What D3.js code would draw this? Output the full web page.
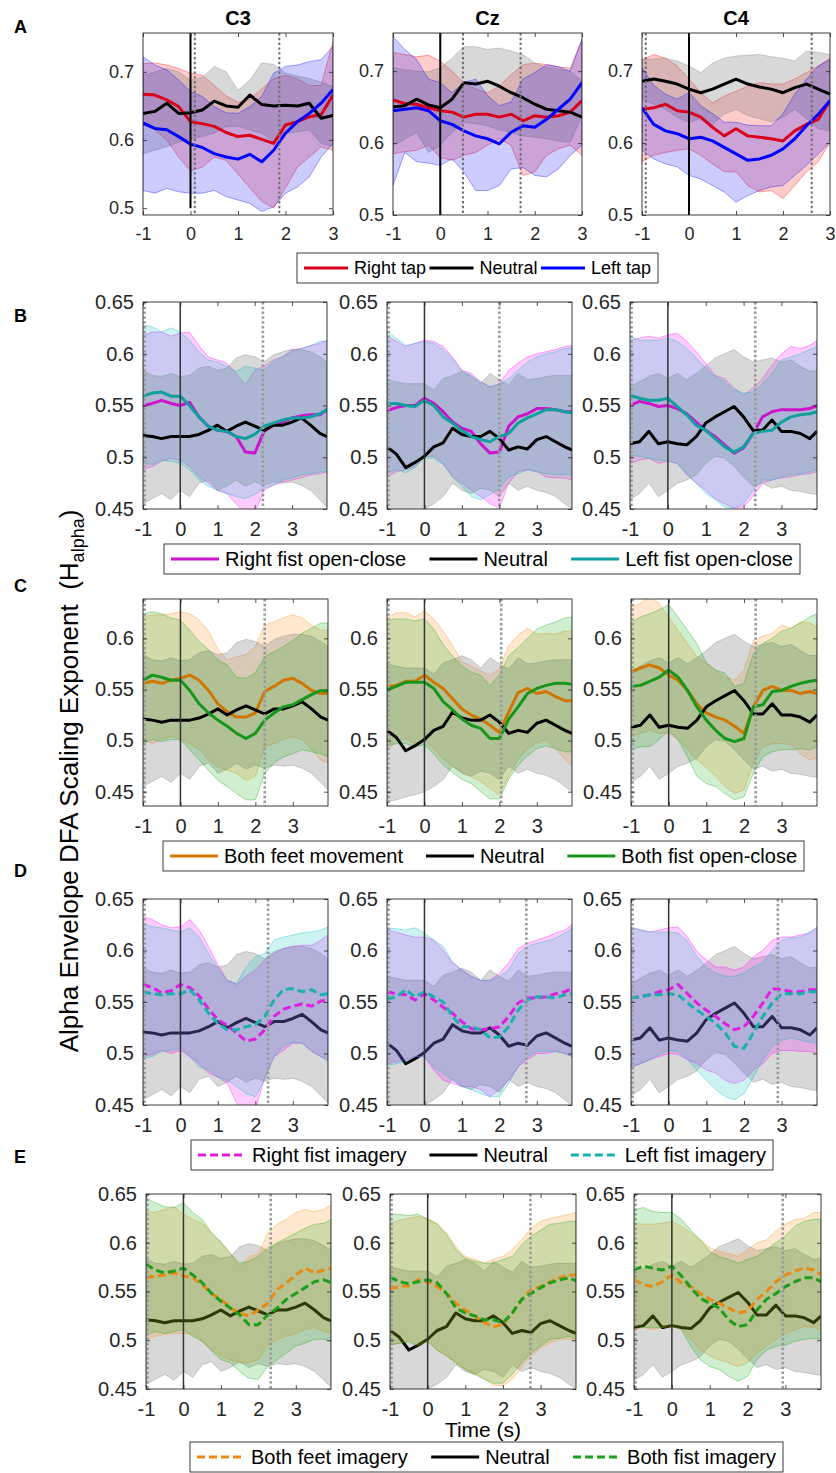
<!DOCTYPE html>
<html lang="en">
<head>
<meta charset="utf-8">
<title>Alpha envelope DFA scaling exponent</title>
<script src="https://cdn.jsdelivr.net/npm/d3@7"></script>
<style>
  body { margin: 0; background: #fff; }
  svg text { font-family: "Liberation Sans", Arial, Helvetica, sans-serif; }
</style>
</head>
<body>
<svg id="chart" width="836" height="1473"></svg>
<script>
// ---------- data ----------
// time axes (s)
var timeA = [-1,-0.75,-0.5,-0.25,0,0.25,0.5,0.75,1,1.25,1.5,1.75,2,2.25,2.5,2.75,3];
var timeB = [-1,-0.75,-0.5,-0.25,0,0.25,0.5,0.75,1,1.25,1.5,1.75,2,2.25,2.5,2.75,3,3.25,3.5,3.75,3.94];

var channels = ["C3", "Cz", "C4"];
var panelLetters = ["A", "B", "C", "D", "E"];
var xTicks = [-1, 0, 1, 2, 3];
var yTicksA = [0.5, 0.6, 0.7];
var yTicksBDE = [0.45, 0.5, 0.55, 0.6, 0.65];
var yTicksC = [0.45, 0.5, 0.55, 0.6];

var legendA = ["Right tap", "Neutral", "Left tap"];
var legendB = ["Right fist open-close", "Neutral", "Left fist open-close"];
var legendC = ["Both feet movement", "Neutral", "Both fist open-close"];
var legendD = ["Right fist imagery", "Neutral", "Left fist imagery"];
var legendE = ["Both feet imagery", "Neutral", "Both fist imagery"];

// dotted event markers (s), per channel
var marksA = [[0.09, 1.87], [0.48, 1.70], [-0.92, 2.61]];
var marksB = [[-1, 2.22], [-1, 2.0], [-1, 2.31]];
var marksC = [[-1, 2.25], [-1, 2.05], [-1, 2.31]];
var marksD = [[-1, 2.34], [-1, 2.72], [-1, 2.9]];
var marksE = [[-1, 2.33], [-1, 2.73], [-1, 2.93]];

// row A: tapping
var aRightC3Mean = [0.667,0.666,0.659,0.649,0.627,0.624,0.620,0.611,0.605,0.607,0.601,0.595,0.622,0.627,0.634,0.637,0.666];
var aRightC3Lo   = [0.622,0.615,0.600,0.575,0.555,0.560,0.575,0.570,0.550,0.530,0.510,0.500,0.530,0.560,0.575,0.590,0.585];
var aRightC3Hi   = [0.712,0.713,0.710,0.705,0.698,0.695,0.680,0.665,0.655,0.660,0.675,0.690,0.695,0.690,0.680,0.680,0.745];
var aNeutC3Mean  = [0.639,0.642,0.654,0.639,0.640,0.644,0.657,0.650,0.648,0.666,0.652,0.650,0.651,0.650,0.654,0.632,0.636];
var aNeutC3Lo    = [0.580,0.585,0.590,0.597,0.602,0.605,0.610,0.620,0.620,0.615,0.610,0.597,0.610,0.612,0.615,0.595,0.590];
var aNeutC3Hi    = [0.695,0.700,0.705,0.700,0.688,0.692,0.708,0.700,0.673,0.688,0.713,0.711,0.698,0.694,0.690,0.685,0.678];
var aLeftC3Mean  = [0.625,0.617,0.615,0.605,0.594,0.589,0.580,0.575,0.572,0.579,0.568,0.585,0.610,0.627,0.639,0.654,0.674];
var aLeftC3Lo    = [0.526,0.522,0.529,0.524,0.522,0.522,0.526,0.517,0.512,0.507,0.495,0.502,0.522,0.531,0.546,0.575,0.595];
var aLeftC3Hi    = [0.722,0.710,0.703,0.688,0.671,0.664,0.649,0.640,0.639,0.649,0.664,0.698,0.708,0.710,0.715,0.718,0.737];

var aRightCzMean = [0.660,0.655,0.654,0.649,0.645,0.643,0.636,0.640,0.640,0.636,0.640,0.631,0.638,0.636,0.638,0.643,0.659];
var aRightCzLo   = [0.585,0.588,0.590,0.597,0.580,0.576,0.583,0.587,0.597,0.606,0.597,0.555,0.560,0.583,0.592,0.597,0.583];
var aRightCzHi   = [0.726,0.723,0.720,0.722,0.714,0.700,0.684,0.675,0.670,0.679,0.695,0.709,0.711,0.709,0.706,0.704,0.744];
var aNeutCzMean  = [0.650,0.652,0.661,0.653,0.649,0.661,0.684,0.682,0.686,0.679,0.670,0.663,0.654,0.647,0.645,0.643,0.636];
var aNeutCzLo    = [0.597,0.605,0.615,0.587,0.597,0.615,0.629,0.627,0.624,0.618,0.615,0.610,0.608,0.606,0.603,0.601,0.638];
var aNeutCzHi    = [0.705,0.702,0.700,0.699,0.705,0.718,0.734,0.734,0.730,0.732,0.728,0.723,0.711,0.705,0.703,0.700,0.686];
var aLeftCzMean  = [0.645,0.647,0.649,0.645,0.631,0.626,0.617,0.610,0.606,0.599,0.615,0.624,0.622,0.633,0.647,0.661,0.684];
var aLeftCzLo    = [0.541,0.587,0.574,0.572,0.569,0.578,0.560,0.534,0.534,0.541,0.564,0.566,0.555,0.553,0.564,0.583,0.597];
var aLeftCzHi    = [0.748,0.730,0.716,0.689,0.684,0.670,0.684,0.689,0.666,0.652,0.657,0.689,0.698,0.709,0.706,0.700,0.744];

var aRightC4Mean = [0.647,0.649,0.654,0.645,0.643,0.636,0.622,0.610,0.620,0.610,0.608,0.606,0.603,0.617,0.626,0.633,0.659];
var aRightC4Lo   = [0.574,0.583,0.587,0.590,0.592,0.583,0.571,0.560,0.560,0.541,0.532,0.534,0.523,0.541,0.560,0.574,0.601];
var aRightC4Hi   = [0.716,0.723,0.718,0.707,0.689,0.670,0.656,0.665,0.672,0.679,0.684,0.682,0.682,0.689,0.698,0.707,0.718];
var aNeutC4Mean  = [0.686,0.689,0.686,0.682,0.675,0.670,0.675,0.682,0.689,0.682,0.678,0.675,0.670,0.677,0.682,0.675,0.668];
var aNeutC4Lo    = [0.661,0.654,0.647,0.636,0.629,0.634,0.626,0.640,0.647,0.638,0.634,0.629,0.636,0.647,0.634,0.620,0.617];
var aNeutC4Hi    = [0.716,0.717,0.718,0.714,0.707,0.698,0.711,0.718,0.721,0.722,0.723,0.720,0.718,0.714,0.728,0.726,0.723];
var aLeftC4Mean  = [0.649,0.626,0.617,0.613,0.606,0.608,0.603,0.594,0.585,0.576,0.578,0.583,0.592,0.606,0.624,0.640,0.659];
var aLeftC4Lo    = [0.590,0.578,0.571,0.567,0.555,0.550,0.541,0.532,0.518,0.527,0.534,0.539,0.541,0.555,0.569,0.585,0.601];
var aLeftC4Hi    = [0.705,0.680,0.668,0.661,0.670,0.652,0.641,0.629,0.629,0.625,0.624,0.624,0.641,0.668,0.689,0.707,0.716];

// neutral condition, shared by rows B-E
var neutC3Mean = [0.521,0.520,0.518,0.520,0.520,0.520,0.522,0.526,0.531,0.525,0.530,0.534,0.530,0.526,0.531,0.531,0.534,0.538,0.531,0.523,0.520];
var neutC3Lo   = [0.455,0.460,0.465,0.459,0.468,0.462,0.475,0.478,0.468,0.472,0.478,0.472,0.476,0.473,0.476,0.475,0.476,0.473,0.468,0.459,0.452];
var neutC3Hi   = [0.584,0.579,0.578,0.581,0.578,0.579,0.586,0.588,0.584,0.586,0.596,0.599,0.597,0.592,0.599,0.602,0.604,0.604,0.602,0.597,0.592];
var neutCzMean = [0.510,0.503,0.490,0.495,0.501,0.510,0.514,0.528,0.522,0.520,0.520,0.525,0.518,0.507,0.510,0.508,0.517,0.520,0.515,0.510,0.507];
var neutCzLo   = [0.440,0.442,0.445,0.447,0.450,0.455,0.462,0.475,0.468,0.465,0.470,0.468,0.462,0.475,0.468,0.472,0.468,0.466,0.462,0.455,0.450];
var neutCzHi   = [0.575,0.573,0.571,0.571,0.571,0.565,0.576,0.579,0.583,0.579,0.571,0.581,0.575,0.570,0.581,0.575,0.576,0.578,0.579,0.579,0.579];
var neutC4Mean = [0.513,0.515,0.525,0.513,0.515,0.513,0.512,0.520,0.533,0.539,0.544,0.549,0.539,0.526,0.526,0.536,0.525,0.525,0.523,0.518,0.525];
var neutC4Lo   = [0.459,0.465,0.475,0.462,0.468,0.475,0.478,0.483,0.494,0.501,0.499,0.491,0.481,0.472,0.475,0.470,0.472,0.468,0.467,0.465,0.464];
var neutC4Hi   = [0.568,0.573,0.578,0.581,0.576,0.581,0.575,0.581,0.588,0.596,0.600,0.604,0.597,0.592,0.594,0.596,0.592,0.594,0.588,0.583,0.584];

// row B: fist open-close
var bRightC3Mean = [0.550,0.552,0.555,0.552,0.550,0.553,0.539,0.530,0.526,0.525,0.520,0.505,0.504,0.525,0.531,0.534,0.538,0.540,0.541,0.541,0.546];
var bRightC3Lo   = [0.488,0.491,0.496,0.499,0.497,0.491,0.481,0.475,0.468,0.465,0.455,0.446,0.446,0.468,0.473,0.476,0.478,0.480,0.483,0.484,0.486];
var bRightC3Hi   = [0.618,0.621,0.621,0.617,0.620,0.621,0.608,0.597,0.594,0.591,0.581,0.570,0.584,0.588,0.594,0.597,0.604,0.605,0.608,0.610,0.613];
var bLeftC3Mean  = [0.559,0.562,0.563,0.559,0.559,0.550,0.539,0.530,0.526,0.525,0.520,0.518,0.522,0.530,0.533,0.536,0.538,0.538,0.539,0.542,0.546];
var bLeftC3Lo    = [0.494,0.493,0.497,0.496,0.494,0.488,0.478,0.472,0.468,0.465,0.462,0.460,0.464,0.470,0.473,0.478,0.480,0.483,0.484,0.486,0.486];
var bLeftC3Hi    = [0.628,0.626,0.621,0.625,0.621,0.613,0.602,0.594,0.592,0.588,0.583,0.588,0.586,0.584,0.592,0.597,0.602,0.605,0.608,0.612,0.612];
var bRightCzMean = [0.545,0.548,0.550,0.550,0.557,0.552,0.544,0.534,0.528,0.525,0.513,0.504,0.505,0.530,0.539,0.542,0.547,0.547,0.546,0.544,0.544];
var bRightCzLo   = [0.481,0.486,0.488,0.491,0.501,0.501,0.494,0.481,0.475,0.468,0.462,0.455,0.451,0.475,0.486,0.488,0.486,0.481,0.480,0.480,0.478];
var bRightCzHi   = [0.617,0.612,0.607,0.610,0.613,0.612,0.607,0.597,0.584,0.581,0.573,0.568,0.571,0.584,0.591,0.597,0.600,0.602,0.604,0.607,0.608];
var bLeftCzMean  = [0.552,0.552,0.550,0.549,0.555,0.550,0.539,0.533,0.526,0.520,0.517,0.515,0.520,0.523,0.533,0.538,0.542,0.546,0.546,0.544,0.543];
var bLeftCzLo    = [0.485,0.488,0.485,0.490,0.499,0.499,0.493,0.481,0.472,0.462,0.459,0.464,0.470,0.481,0.484,0.488,0.486,0.484,0.483,0.483,0.483];
var bLeftCzHi    = [0.621,0.615,0.608,0.610,0.612,0.610,0.604,0.595,0.583,0.578,0.573,0.568,0.570,0.576,0.584,0.592,0.597,0.600,0.602,0.605,0.606];
var bRightC4Mean = [0.550,0.554,0.552,0.549,0.550,0.547,0.542,0.534,0.526,0.520,0.512,0.504,0.509,0.523,0.539,0.544,0.546,0.546,0.546,0.547,0.550];
var bRightC4Lo   = [0.494,0.497,0.499,0.494,0.496,0.494,0.483,0.475,0.468,0.460,0.455,0.451,0.452,0.462,0.475,0.478,0.480,0.481,0.483,0.484,0.486];
var bRightC4Hi   = [0.613,0.615,0.617,0.615,0.618,0.620,0.612,0.602,0.591,0.579,0.576,0.567,0.560,0.567,0.576,0.589,0.600,0.607,0.605,0.608,0.613];
var bLeftC4Mean  = [0.560,0.557,0.555,0.555,0.557,0.549,0.541,0.531,0.526,0.518,0.510,0.505,0.510,0.523,0.525,0.526,0.534,0.539,0.541,0.542,0.544];
var bLeftC4Lo    = [0.502,0.501,0.499,0.497,0.497,0.494,0.484,0.475,0.465,0.459,0.452,0.451,0.455,0.468,0.478,0.478,0.481,0.483,0.484,0.486,0.488];
var bLeftC4Hi    = [0.617,0.613,0.613,0.613,0.615,0.612,0.605,0.596,0.586,0.578,0.573,0.565,0.562,0.563,0.571,0.581,0.594,0.597,0.600,0.604,0.607];

// row C: feet movement / both fists
var cFeetC3Mean = [0.556,0.558,0.556,0.559,0.561,0.564,0.559,0.549,0.536,0.528,0.523,0.523,0.527,0.548,0.553,0.559,0.561,0.556,0.549,0.546,0.546];
var cFeetC3Lo   = [0.501,0.497,0.501,0.504,0.502,0.497,0.491,0.481,0.474,0.471,0.468,0.461,0.465,0.494,0.497,0.501,0.504,0.501,0.491,0.481,0.478];
var cFeetC3Hi   = [0.621,0.623,0.623,0.624,0.626,0.624,0.618,0.607,0.589,0.579,0.582,0.584,0.592,0.613,0.616,0.620,0.623,0.620,0.613,0.608,0.608];
var cFistC3Mean = [0.559,0.564,0.562,0.559,0.559,0.549,0.536,0.527,0.520,0.514,0.507,0.502,0.507,0.520,0.527,0.533,0.535,0.540,0.545,0.549,0.548];
var cFistC3Lo   = [0.497,0.501,0.499,0.501,0.501,0.491,0.481,0.471,0.461,0.455,0.448,0.442,0.442,0.468,0.478,0.484,0.487,0.491,0.489,0.487,0.484];
var cFistC3Hi   = [0.624,0.626,0.624,0.620,0.618,0.608,0.597,0.589,0.579,0.574,0.562,0.561,0.566,0.582,0.587,0.592,0.598,0.605,0.610,0.615,0.615];
var cFeetCzMean = [0.553,0.554,0.558,0.558,0.564,0.557,0.551,0.541,0.531,0.525,0.521,0.515,0.508,0.528,0.547,0.551,0.546,0.548,0.543,0.539,0.539];
var cFeetCzLo   = [0.490,0.500,0.502,0.497,0.501,0.492,0.482,0.475,0.469,0.465,0.460,0.453,0.447,0.465,0.482,0.492,0.498,0.501,0.492,0.482,0.475];
var cFeetCzHi   = [0.620,0.625,0.625,0.621,0.627,0.619,0.607,0.593,0.577,0.573,0.568,0.564,0.570,0.593,0.603,0.610,0.604,0.605,0.604,0.607,0.607];
var cFistCzMean = [0.550,0.553,0.557,0.557,0.557,0.551,0.538,0.530,0.521,0.515,0.512,0.502,0.502,0.521,0.533,0.546,0.551,0.554,0.556,0.556,0.555];
var cFistCzLo   = [0.495,0.497,0.497,0.494,0.496,0.487,0.476,0.469,0.462,0.458,0.450,0.443,0.443,0.462,0.476,0.485,0.492,0.495,0.492,0.489,0.489];
var cFistCzHi   = [0.618,0.619,0.619,0.617,0.619,0.609,0.594,0.583,0.573,0.567,0.564,0.554,0.564,0.583,0.591,0.600,0.609,0.613,0.616,0.620,0.621];
var cFeetC4Mean = [0.567,0.571,0.574,0.571,0.564,0.559,0.549,0.536,0.527,0.523,0.520,0.514,0.507,0.533,0.549,0.553,0.549,0.549,0.546,0.548,0.546];
var cFeetC4Lo   = [0.504,0.507,0.510,0.507,0.507,0.501,0.491,0.481,0.474,0.465,0.455,0.448,0.452,0.478,0.494,0.497,0.497,0.496,0.487,0.481,0.483];
var cFeetC4Hi   = [0.631,0.634,0.641,0.634,0.621,0.608,0.595,0.582,0.576,0.569,0.562,0.559,0.569,0.598,0.602,0.605,0.613,0.610,0.616,0.615,0.611];
var cFistC4Mean = [0.553,0.554,0.558,0.562,0.569,0.562,0.549,0.533,0.520,0.510,0.502,0.499,0.502,0.533,0.535,0.548,0.549,0.553,0.556,0.558,0.559];
var cFistC4Lo   = [0.491,0.494,0.494,0.501,0.510,0.501,0.484,0.465,0.458,0.455,0.448,0.442,0.445,0.468,0.484,0.489,0.491,0.491,0.492,0.491,0.494];
var cFistC4Hi   = [0.615,0.621,0.624,0.628,0.633,0.621,0.608,0.595,0.576,0.569,0.566,0.553,0.556,0.585,0.595,0.600,0.607,0.610,0.615,0.621,0.624];

// row D: fist imagery
var dRightC3Mean = [0.567,0.564,0.559,0.561,0.567,0.564,0.556,0.543,0.533,0.527,0.520,0.512,0.514,0.523,0.536,0.543,0.546,0.548,0.546,0.551,0.552];
var dRightC3Lo   = [0.497,0.499,0.503,0.500,0.503,0.497,0.490,0.481,0.477,0.471,0.452,0.439,0.445,0.477,0.497,0.503,0.510,0.510,0.502,0.497,0.494];
var dRightC3Hi   = [0.633,0.630,0.625,0.622,0.623,0.630,0.620,0.604,0.586,0.571,0.567,0.575,0.581,0.591,0.597,0.602,0.604,0.605,0.605,0.610,0.615];
var dLeftC3Mean  = [0.560,0.558,0.557,0.558,0.558,0.562,0.552,0.539,0.529,0.523,0.523,0.526,0.528,0.536,0.552,0.562,0.563,0.560,0.562,0.557,0.558];
var dLeftC3Lo    = [0.495,0.497,0.502,0.503,0.505,0.497,0.487,0.484,0.477,0.474,0.468,0.461,0.458,0.474,0.497,0.507,0.511,0.510,0.503,0.497,0.492];
var dLeftC3Hi    = [0.626,0.623,0.622,0.620,0.618,0.622,0.613,0.597,0.583,0.571,0.568,0.584,0.594,0.597,0.610,0.613,0.615,0.617,0.618,0.620,0.623];
var dRightCzMean = [0.560,0.558,0.557,0.552,0.558,0.552,0.545,0.539,0.531,0.524,0.523,0.524,0.526,0.536,0.549,0.554,0.554,0.555,0.558,0.560,0.563];
var dRightCzLo   = [0.490,0.492,0.494,0.497,0.497,0.484,0.474,0.471,0.468,0.468,0.465,0.458,0.465,0.474,0.487,0.494,0.500,0.500,0.502,0.500,0.497];
var dRightCzHi   = [0.620,0.618,0.615,0.613,0.613,0.610,0.600,0.588,0.581,0.575,0.571,0.571,0.578,0.588,0.602,0.607,0.610,0.613,0.617,0.620,0.625];
var dLeftCzMean  = [0.553,0.555,0.562,0.555,0.560,0.555,0.550,0.536,0.526,0.526,0.523,0.515,0.516,0.526,0.542,0.552,0.555,0.555,0.554,0.557,0.558];
var dLeftCzLo    = [0.488,0.490,0.492,0.497,0.497,0.487,0.481,0.474,0.468,0.465,0.461,0.458,0.458,0.471,0.487,0.497,0.502,0.502,0.502,0.500,0.497];
var dLeftCzHi    = [0.622,0.621,0.620,0.622,0.617,0.610,0.604,0.589,0.581,0.575,0.571,0.571,0.575,0.581,0.597,0.604,0.607,0.609,0.612,0.617,0.622];
var dRightC4Mean = [0.554,0.555,0.557,0.560,0.562,0.567,0.558,0.549,0.542,0.536,0.529,0.523,0.526,0.536,0.549,0.563,0.562,0.560,0.560,0.562,0.562];
var dRightC4Lo   = [0.486,0.490,0.494,0.497,0.500,0.499,0.494,0.490,0.484,0.481,0.474,0.471,0.474,0.484,0.490,0.500,0.503,0.503,0.502,0.502,0.500];
var dRightC4Hi   = [0.622,0.620,0.618,0.620,0.622,0.623,0.613,0.599,0.591,0.584,0.584,0.581,0.584,0.594,0.600,0.610,0.613,0.613,0.615,0.617,0.623];
var dLeftC4Mean  = [0.554,0.555,0.557,0.557,0.558,0.557,0.549,0.542,0.536,0.529,0.520,0.507,0.505,0.520,0.536,0.549,0.558,0.558,0.558,0.560,0.560];
var dLeftC4Lo    = [0.487,0.490,0.494,0.499,0.503,0.502,0.494,0.484,0.474,0.465,0.458,0.455,0.461,0.477,0.494,0.507,0.513,0.515,0.513,0.511,0.510];
var dLeftC4Hi    = [0.623,0.620,0.618,0.618,0.618,0.617,0.609,0.594,0.584,0.578,0.575,0.575,0.578,0.584,0.588,0.600,0.610,0.612,0.613,0.618,0.622];

// row E: feet / both fist imagery
var eFeetC3Mean = [0.564,0.566,0.567,0.569,0.566,0.564,0.557,0.548,0.542,0.533,0.528,0.525,0.531,0.538,0.552,0.559,0.567,0.574,0.569,0.572,0.574];
var eFeetC3Lo   = [0.501,0.504,0.506,0.507,0.507,0.506,0.499,0.490,0.484,0.480,0.477,0.477,0.480,0.494,0.501,0.504,0.507,0.511,0.513,0.509,0.507];
var eFeetC3Hi   = [0.632,0.631,0.634,0.637,0.629,0.624,0.620,0.610,0.600,0.589,0.576,0.586,0.588,0.610,0.619,0.624,0.631,0.634,0.632,0.634,0.639];
var eFistC3Mean = [0.578,0.572,0.569,0.571,0.574,0.567,0.559,0.548,0.540,0.533,0.526,0.516,0.516,0.526,0.533,0.542,0.548,0.554,0.560,0.562,0.559];
var eFistC3Lo   = [0.506,0.509,0.507,0.509,0.511,0.504,0.499,0.489,0.480,0.477,0.468,0.461,0.460,0.473,0.480,0.487,0.494,0.497,0.501,0.501,0.499];
var eFistC3Hi   = [0.646,0.641,0.637,0.636,0.641,0.631,0.624,0.610,0.601,0.589,0.579,0.581,0.586,0.595,0.600,0.605,0.610,0.615,0.619,0.620,0.624];
var eFeetCzMean = [0.553,0.555,0.556,0.562,0.560,0.555,0.548,0.538,0.531,0.525,0.518,0.514,0.516,0.528,0.542,0.552,0.555,0.560,0.564,0.567,0.567];
var eFeetCzLo   = [0.495,0.497,0.500,0.495,0.499,0.490,0.484,0.477,0.470,0.466,0.461,0.454,0.453,0.460,0.473,0.484,0.492,0.497,0.501,0.501,0.499];
var eFeetCzHi   = [0.620,0.623,0.625,0.627,0.625,0.620,0.610,0.596,0.586,0.583,0.579,0.583,0.586,0.593,0.603,0.615,0.622,0.625,0.627,0.629,0.631];
var eFistCzMean = [0.565,0.560,0.558,0.560,0.562,0.559,0.548,0.533,0.528,0.525,0.521,0.521,0.518,0.528,0.542,0.548,0.554,0.559,0.562,0.564,0.561];
var eFistCzLo   = [0.495,0.497,0.498,0.494,0.499,0.490,0.484,0.477,0.470,0.465,0.460,0.456,0.456,0.465,0.477,0.487,0.494,0.501,0.502,0.504,0.501];
var eFistCzHi   = [0.630,0.629,0.628,0.629,0.624,0.619,0.608,0.593,0.584,0.581,0.579,0.579,0.583,0.586,0.598,0.607,0.613,0.619,0.620,0.622,0.622];
var eFeetC4Mean = [0.562,0.557,0.555,0.560,0.567,0.559,0.555,0.548,0.542,0.538,0.533,0.528,0.530,0.542,0.550,0.560,0.567,0.571,0.574,0.572,0.567];
var eFeetC4Lo   = [0.511,0.513,0.511,0.513,0.514,0.511,0.501,0.490,0.484,0.480,0.477,0.473,0.477,0.487,0.494,0.501,0.507,0.511,0.514,0.513,0.511];
var eFeetC4Hi   = [0.620,0.619,0.619,0.620,0.622,0.617,0.610,0.603,0.595,0.591,0.589,0.586,0.593,0.600,0.603,0.612,0.619,0.624,0.625,0.631,0.631];
var eFistC4Mean = [0.572,0.576,0.574,0.572,0.576,0.566,0.554,0.543,0.538,0.533,0.521,0.514,0.516,0.531,0.542,0.548,0.555,0.560,0.564,0.564,0.560];
var eFistC4Lo   = [0.514,0.513,0.513,0.513,0.516,0.511,0.494,0.480,0.473,0.470,0.463,0.458,0.463,0.480,0.490,0.494,0.495,0.499,0.501,0.502,0.501];
var eFistC4Hi   = [0.634,0.636,0.632,0.631,0.631,0.624,0.613,0.603,0.591,0.586,0.583,0.579,0.583,0.586,0.593,0.600,0.607,0.617,0.622,0.624,0.624];

// ---------- tables built from the data ----------
var rows = [
  { time: timeA, xdom: [-1, 3], ydom: [[0.49, 0.757], [0.5, 0.753], [0.5, 0.753]], yticks: yTicksA,
    names: legendA, marks: marksA,
    series: [
      [[aRightC3Mean, aRightC3Lo, aRightC3Hi], [aNeutC3Mean, aNeutC3Lo, aNeutC3Hi], [aLeftC3Mean, aLeftC3Lo, aLeftC3Hi]],
      [[aRightCzMean, aRightCzLo, aRightCzHi], [aNeutCzMean, aNeutCzLo, aNeutCzHi], [aLeftCzMean, aLeftCzLo, aLeftCzHi]],
      [[aRightC4Mean, aRightC4Lo, aRightC4Hi], [aNeutC4Mean, aNeutC4Lo, aNeutC4Hi], [aLeftC4Mean, aLeftC4Lo, aLeftC4Hi]]
    ]},
  { time: timeB, xdom: [-1, 3.94], ydom: [[0.45, 0.65], [0.45, 0.65], [0.45, 0.65]], yticks: yTicksBDE,
    names: legendB, marks: marksB,
    series: [
      [[bRightC3Mean, bRightC3Lo, bRightC3Hi], [neutC3Mean, neutC3Lo, neutC3Hi], [bLeftC3Mean, bLeftC3Lo, bLeftC3Hi]],
      [[bRightCzMean, bRightCzLo, bRightCzHi], [neutCzMean, neutCzLo, neutCzHi], [bLeftCzMean, bLeftCzLo, bLeftCzHi]],
      [[bRightC4Mean, bRightC4Lo, bRightC4Hi], [neutC4Mean, neutC4Lo, neutC4Hi], [bLeftC4Mean, bLeftC4Lo, bLeftC4Hi]]
    ]},
  { time: timeB, xdom: [-1, 3.94], ydom: [[0.436, 0.6385], [0.436, 0.6385], [0.436, 0.6385]], yticks: yTicksC,
    names: legendC, marks: marksC,
    series: [
      [[cFeetC3Mean, cFeetC3Lo, cFeetC3Hi], [neutC3Mean, neutC3Lo, neutC3Hi], [cFistC3Mean, cFistC3Lo, cFistC3Hi]],
      [[cFeetCzMean, cFeetCzLo, cFeetCzHi], [neutCzMean, neutCzLo, neutCzHi], [cFistCzMean, cFistCzLo, cFistCzHi]],
      [[cFeetC4Mean, cFeetC4Lo, cFeetC4Hi], [neutC4Mean, neutC4Lo, neutC4Hi], [cFistC4Mean, cFistC4Lo, cFistC4Hi]]
    ]},
  { time: timeB, xdom: [-1, 3.94], ydom: [[0.45, 0.65], [0.45, 0.65], [0.45, 0.65]], yticks: yTicksBDE,
    names: legendD, marks: marksD,
    series: [
      [[dRightC3Mean, dRightC3Lo, dRightC3Hi], [neutC3Mean, neutC3Lo, neutC3Hi], [dLeftC3Mean, dLeftC3Lo, dLeftC3Hi]],
      [[dRightCzMean, dRightCzLo, dRightCzHi], [neutCzMean, neutCzLo, neutCzHi], [dLeftCzMean, dLeftCzLo, dLeftCzHi]],
      [[dRightC4Mean, dRightC4Lo, dRightC4Hi], [neutC4Mean, neutC4Lo, neutC4Hi], [dLeftC4Mean, dLeftC4Lo, dLeftC4Hi]]
    ]},
  { time: timeB, xdom: [-1, 3.94], ydom: [[0.45, 0.65], [0.45, 0.65], [0.45, 0.65]], yticks: yTicksBDE,
    names: legendE, marks: marksE,
    series: [
      [[eFeetC3Mean, eFeetC3Lo, eFeetC3Hi], [neutC3Mean, neutC3Lo, neutC3Hi], [eFistC3Mean, eFistC3Lo, eFistC3Hi]],
      [[eFeetCzMean, eFeetCzLo, eFeetCzHi], [neutCzMean, neutCzLo, neutCzHi], [eFistCzMean, eFistCzLo, eFistCzHi]],
      [[eFeetC4Mean, eFeetC4Lo, eFeetC4Hi], [neutC4Mean, neutC4Lo, neutC4Hi], [eFistC4Mean, eFistC4Lo, eFistC4Hi]]
    ]}
];

// ---------- layout and styles ----------
var layout = [
  {top: 33,   bottom: 215,  xs: [[143,333],[393,582],[642,830]], fs: 18, letterY: 33,   legend: [297, 658, 253]},
  {top: 302,  bottom: 509,  xs: [[143,327],[387,572],[630,817]], fs: 20, letterY: 322,  legend: [164, 800, 544]},
  {top: 599,  bottom: 806,  xs: [[143,328],[387,572],[631,817]], fs: 20, letterY: 592,  legend: [163, 804, 841]},
  {top: 899,  bottom: 1105, xs: [[143,328],[387,572],[631,817]], fs: 20, letterY: 877,  legend: [191, 773, 1140]},
  {top: 1194, bottom: 1389, xs: [[146,331],[390,576],[634,821]], fs: 20, letterY: 1163, legend: [190, 783, 1442]}
];

var gray = "#7f7f7f";
// neutralUnder: neutral band+line drawn first, the other bands then cover it
var styles = [
  {line: ["#d8001c", "#000000", "#0000ff"], band: ["#ff0000", gray, "#0000ff"], dash: [null, null, null], neutralUnder: false},
  {line: ["#cc14cc", "#000000", "#0f9f9f"], band: ["#ff00ff", gray, "#00bcbc"], dash: [null, null, null], neutralUnder: false},
  {line: ["#d07600", "#000000", "#16961a"], band: ["#ff8a10", gray, "#12a812"], dash: [null, null, null], neutralUnder: false},
  {line: ["#e01ee0", "#000000", "#1ab0b0"], band: ["#ff00ff", gray, "#00bcbc"], dash: ["8,4", null, "8,4"], neutralUnder: true},
  {line: ["#ea8a12", "#000000", "#1c9e1c"], band: ["#ff8a10", gray, "#12a812"], dash: ["8,4", null, "8,4"], neutralUnder: true}
];
var bandOpacity = [0.2, 0.3, 0.2];
var axisColor = "#262626";

var svg = d3.select("#chart");
var defs = svg.append("defs");

function drawPanel(r, c) {
  var L = layout[r], R = rows[r], st = styles[r];
  var xr = L.xs[c];
  var x = d3.scaleLinear().domain(R.xdom).range(xr);
  var y = d3.scaleLinear().domain(R.ydom[c]).range([L.bottom, L.top]);
  var time = R.time;
  var clipId = "clip-" + r + "-" + c;
  defs.append("clipPath").attr("id", clipId).append("rect")
    .attr("x", xr[0]).attr("y", L.top)
    .attr("width", xr[1] - xr[0]).attr("height", L.bottom - L.top);

  var g = svg.append("g");
  var plot = g.append("g").attr("clip-path", "url(#" + clipId + ")");

  var area = d3.area()
    .x(function(d, i) { return x(time[i]); })
    .y0(function(d) { return y(d[0]); })
    .y1(function(d) { return y(d[1]); });
  var line = d3.line()
    .x(function(d, i) { return x(time[i]); })
    .y(function(d) { return y(d); });

  function band(k) {
    var s = R.series[c][k];
    var pts = s[1].map(function(v, i) { return [v, s[2][i]]; });
    plot.append("path").datum(pts)
      .attr("d", area)
      .attr("fill", st.band[k]).attr("fill-opacity", bandOpacity[k])
      .attr("stroke", st.band[k]).attr("stroke-opacity", 0.45).attr("stroke-width", 0.8);
  }
  function meanLine(k) {
    plot.append("path").datum(R.series[c][k][0])
      .attr("d", line)
      .attr("fill", "none")
      .attr("stroke", st.line[k]).attr("stroke-width", 3)
      .attr("stroke-dasharray", st.dash[k])
      .attr("stroke-linejoin", "round");
  }

  if (st.neutralUnder) {
    band(1); meanLine(1);
    band(0); band(2);
    meanLine(0); meanLine(2);
  } else {
    band(0); band(1); band(2);
    meanLine(0); meanLine(1); meanLine(2);
  }

  // event onset and dotted markers
  var zeroEnd = (r === 0 && c === 0) ? y(0.5) : L.bottom;
  plot.append("line")
    .attr("x1", x(0)).attr("x2", x(0))
    .attr("y1", L.top).attr("y2", zeroEnd)
    .attr("stroke", r === 0 ? "#000" : "#333").attr("stroke-width", r === 0 ? 2 : 1.5);
  R.marks[c].forEach(function(m) {
    var xm = x(m);
    if (m <= R.xdom[0]) xm = xr[0] + 1.5;
    plot.append("line")
      .attr("x1", xm).attr("x2", xm)
      .attr("y1", L.top).attr("y2", L.bottom)
      .attr("stroke", r === 0 ? "#6e6e6e" : "#999").attr("stroke-width", r === 0 ? 2 : 2.6)
      .attr("stroke-dasharray", "2.4,2.4");
  });

  // axes, ticks pointing inwards on all four sides
  function styleAxis(sel) {
    sel.attr("font-size", L.fs).attr("font-family", null).attr("color", axisColor);
    sel.select(".domain").remove();
    sel.selectAll(".tick line").attr("stroke-width", 0.8);
  }
  g.append("g").attr("transform", "translate(0," + L.bottom + ")")
    .call(d3.axisBottom(x).tickValues(xTicks).tickFormat(function(d) { return String(d); })
      .tickSizeInner(-4).tickSizeOuter(0).tickPadding(r === 0 ? 12 : 13))
    .call(styleAxis);
  g.append("g").attr("transform", "translate(0," + L.top + ")")
    .call(d3.axisTop(x).tickValues(xTicks).tickFormat("").tickSizeInner(-4).tickSizeOuter(0))
    .call(styleAxis);
  g.append("g").attr("transform", "translate(" + xr[0] + ",0)")
    .call(d3.axisLeft(y).tickValues(R.yticks).tickFormat(function(d) { return String(d); })
      .tickSizeInner(-4).tickSizeOuter(0).tickPadding(9))
    .call(styleAxis);
  g.append("g").attr("transform", "translate(" + xr[1] + ",0)")
    .call(d3.axisRight(y).tickValues(R.yticks).tickFormat("").tickSizeInner(-4).tickSizeOuter(0))
    .call(styleAxis);
  g.append("rect")
    .attr("x", xr[0]).attr("y", L.top)
    .attr("width", xr[1] - xr[0]).attr("height", L.bottom - L.top)
    .attr("fill", "none").attr("stroke", axisColor).attr("stroke-width", 0.9);
}

function drawLegend(r) {
  var L = layout[r], R = rows[r], st = styles[r];
  var left = L.legend[0], right = L.legend[1], top = L.legend[2], h = 30;
  var lineLen = r === 0 ? 44 : 48, pad = 7, gap = 6;
  var lg = svg.append("g");
  lg.append("rect").attr("x", left).attr("y", top).attr("width", right - left).attr("height", h)
    .attr("fill", "#fff").attr("stroke", axisColor).attr("stroke-width", 0.9);
  var texts = R.names.map(function(n) {
    return lg.append("text").attr("font-size", L.fs).attr("fill", "#000")
      .attr("y", top + h / 2).attr("dy", "0.35em").text(n);
  });
  var widths = texts.map(function(t) { return t.node().getComputedTextLength(); });
  var used = 2 * pad + d3.sum(widths) + R.names.length * (lineLen + gap);
  var inter = (right - left - used) / (R.names.length - 1);
  var cx = left + pad;
  R.names.forEach(function(n, k) {
    lg.append("line")
      .attr("x1", cx).attr("x2", cx + lineLen)
      .attr("y1", top + h / 2).attr("y2", top + h / 2)
      .attr("stroke", st.line[k]).attr("stroke-width", 3)
      .attr("stroke-dasharray", st.dash[k]);
    texts[k].attr("x", cx + lineLen + gap);
    cx += lineLen + gap + widths[k] + inter;
  });
}

for (var r = 0; r < rows.length; r++) {
  for (var c = 0; c < 3; c++) drawPanel(r, c);
  drawLegend(r);
  svg.append("text")
    .attr("x", 14).attr("y", layout[r].letterY)
    .attr("font-size", 18).attr("font-weight", "bold").attr("fill", "#000")
    .text(panelLetters[r]);
}

// channel titles over row A
channels.forEach(function(ch, c) {
  var xr = layout[0].xs[c];
  svg.append("text")
    .attr("x", (xr[0] + xr[1]) / 2).attr("y", 25)
    .attr("text-anchor", "middle")
    .attr("font-size", 20).attr("font-weight", "bold").attr("fill", "#000")
    .text(ch);
});

// shared y label
var yl = svg.append("text")
  .attr("transform", "translate(78,781) rotate(-90)")
  .attr("text-anchor", "middle")
  .attr("font-size", 26).attr("fill", "#000");
yl.append("tspan").text("Alpha Envelope DFA Scaling Exponent\u00a0\u00a0(H");
yl.append("tspan").attr("font-size", 18).attr("dy", 6).text("alpha");
yl.append("tspan").attr("dy", -6).text(")");

// x label under row E
svg.append("text")
  .attr("x", (layout[4].xs[1][0] + layout[4].xs[1][1]) / 2).attr("y", 1437)
  .attr("text-anchor", "middle")
  .attr("font-size", 21).attr("fill", "#000")
  .text("Time (s)");
</script>
</body>
</html>
